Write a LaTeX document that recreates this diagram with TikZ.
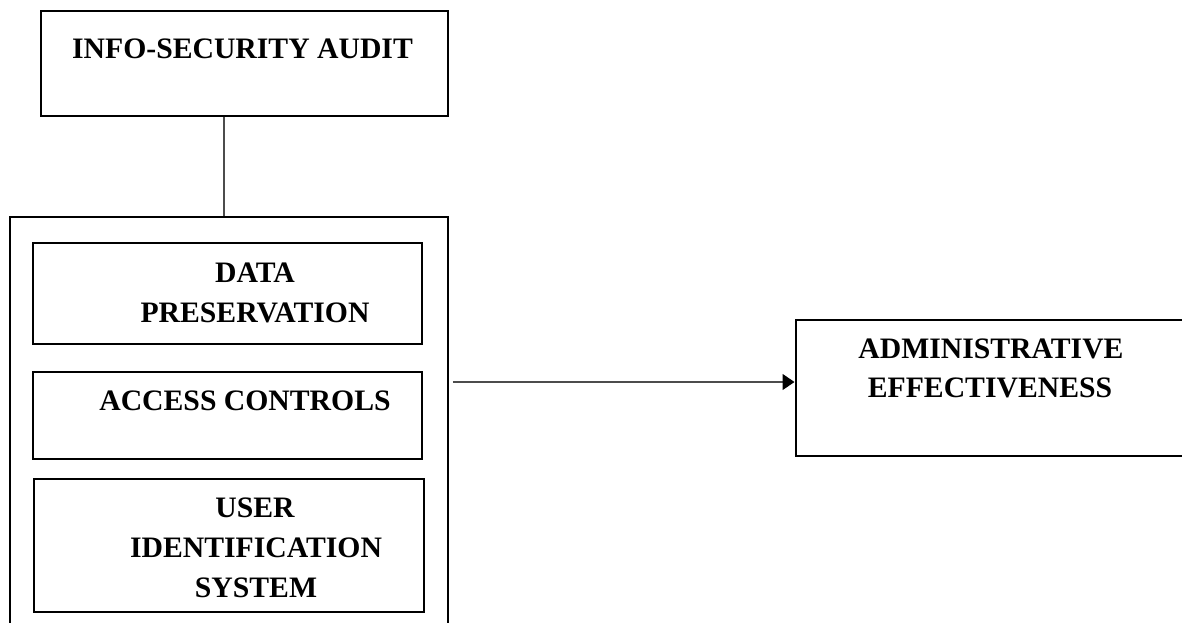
\documentclass[tikz,border=0pt]{standalone}
\usepackage{fontspec}
\setmainfont{Liberation Serif}
\usetikzlibrary{fit,arrows.meta}
\tikzset{
  box/.style={draw=black, line width=1.5pt, inner sep=0pt, rectangle},
  conn/.style={draw=black!70, line width=1.2pt},
  lbl/.style={inner sep=0pt, anchor=base, font=\fontsize{29.7}{40}\selectfont\bfseries}
}
\begin{document}
\begin{tikzpicture}[x=1pt,y=-1pt]
\useasboundingbox (0,0) rectangle (1182,622);
\clip (0,0) rectangle (1182,622);
% boxes
\node[box, fit={(41,11) (448,116)}] (top) {};
\node[box, fit={(10,217) (448,680)}] (container) {};
\node[box, fit={(33,243) (422,344)}] (data) {};
\node[box, fit={(33,372) (422,459)}] (access) {};
\node[box, fit={(34,479) (424,612)}] (user) {};
\node[box, fit={(796,320) (1220,456)}] (admin) {};
% labels
\node[lbl] (t1) at (242.5,58) {INFO-SECURITY AUDIT};
\node[lbl] (d1) at (255,282) {DATA};
\node[lbl] (d2) at (255,322) {PRESERVATION};
\node[lbl] (a1) at (245,410) {ACCESS CONTROLS};
\node[lbl] (u1) at (255,517) {USER};
\node[lbl] (u2) at (256,557) {IDENTIFICATION};
\node[lbl] (u3) at (256,597) {SYSTEM};
\node[lbl] (e1) at (991,358) {ADMINISTRATIVE};
\node[lbl] (e2) at (990,397) {EFFECTIVENESS};
% connectors
\coordinate (vx) at (224,0);
\coordinate (arr) at (0,382);
\draw[conn] (top.south -| vx) -- (container.north -| vx);
\draw[conn, -{Triangle[length=12pt,width=16pt,color=black,fill=black]}] ([xshift=4pt]container.east |- arr) -- ([xshift=-0.75pt]admin.west |- arr);
\end{tikzpicture}
\end{document}
